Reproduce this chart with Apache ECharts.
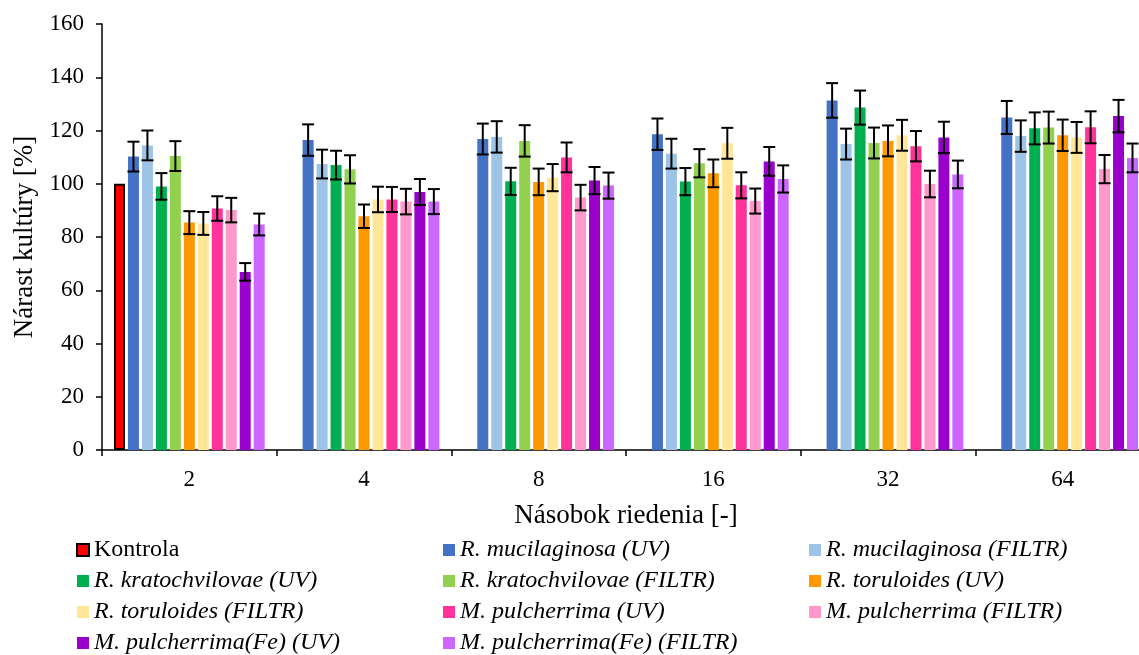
<!DOCTYPE html>
<html>
<head>
<meta charset="utf-8">
<script src="https://cdn.jsdelivr.net/npm/echarts@6/dist/echarts.min.js"></script>
<style>
  html, body { margin: 0; padding: 0; background: #fff; }
  #main { width: 1139px; height: 655px; }
</style>
</head>
<body>
<div id="main"></div>
<script>
// kategórie (násobok riedenia)
const categories = ['2', '4', '8', '16', '32', '64'];
const yTicks = [0, 20, 40, 60, 80, 100, 120, 140, 160];

// priemerné hodnoty [%]
const kontrola  = [100, null, null, null, null, null];
const rMucUV    = [110.2, 116.4, 116.8, 118.6, 131.3, 124.9];
const rMucFILTR = [114.4, 107.4, 117.6, 111.3, 114.9, 117.9];
const rKraUV    = [99.0, 107.0, 100.9, 100.8, 128.6, 120.8];
const rKraFILTR = [110.4, 105.4, 116.1, 107.7, 115.3, 121.1];
const rTorUV    = [85.4, 87.8, 100.7, 103.9, 116.1, 118.2];
const rTorFILTR = [85.1, 94.1, 102.3, 115.2, 118.2, 117.4];
const mPulUV    = [90.7, 94.1, 109.9, 99.4, 114.1, 121.2];
const mPulFILTR = [90.1, 93.3, 94.8, 93.5, 99.9, 105.5];
const mFeUV     = [66.9, 96.9, 101.2, 108.4, 117.4, 125.4];
const mFeFILTR  = [84.7, 93.3, 99.3, 101.8, 103.5, 109.7];

// smerodajné odchýlky (±)
const kontrolaErr  = [null, null, null, null, null, null];
const rMucUVErr    = [5.6, 5.9, 5.8, 5.9, 6.5, 6.2];
const rMucFILTRErr = [5.6, 5.4, 5.9, 5.6, 5.8, 5.9];
const rKraUVErr    = [5.0, 5.4, 5.1, 5.1, 6.4, 6.0];
const rKraFILTRErr = [5.6, 5.3, 5.9, 5.3, 5.8, 6.0];
const rTorUVErr    = [4.3, 4.4, 5.0, 5.2, 5.8, 5.9];
const rTorFILTRErr = [4.3, 4.8, 5.1, 5.8, 5.8, 5.8];
const mPulUVErr    = [4.6, 4.7, 5.6, 4.9, 5.7, 6.0];
const mPulFILTRErr = [4.6, 4.8, 4.8, 4.7, 5.0, 5.3];
const mFeUVErr     = [3.3, 4.9, 5.1, 5.4, 5.9, 6.1];
const mFeFILTRErr  = [4.1, 4.7, 4.9, 5.1, 5.2, 5.4];

const seriesDefs = [
  { name: 'Kontrola', values: kontrola, err: kontrolaErr, color: '#FF0000', italic: false },
  { name: 'R. mucilaginosa (UV)', values: rMucUV, err: rMucUVErr, color: '#4472C4', italic: true },
  { name: 'R. mucilaginosa (FILTR)', values: rMucFILTR, err: rMucFILTRErr, color: '#9DC3E6', italic: true },
  { name: 'R. kratochvilovae (UV)', values: rKraUV, err: rKraUVErr, color: '#00B050', italic: true },
  { name: 'R. kratochvilovae (FILTR)', values: rKraFILTR, err: rKraFILTRErr, color: '#92D050', italic: true },
  { name: 'R. toruloides (UV)', values: rTorUV, err: rTorUVErr, color: '#FF9900', italic: true },
  { name: 'R. toruloides (FILTR)', values: rTorFILTR, err: rTorFILTRErr, color: '#FFE699', italic: true },
  { name: 'M. pulcherrima (UV)', values: mPulUV, err: mPulUVErr, color: '#FF3399', italic: true },
  { name: 'M. pulcherrima (FILTR)', values: mPulFILTR, err: mPulFILTRErr, color: '#FF99CC', italic: true },
  { name: 'M. pulcherrima(Fe) (UV)', values: mFeUV, err: mFeUVErr, color: '#9900CC', italic: true },
  { name: 'M. pulcherrima(Fe) (FILTR)', values: mFeFILTR, err: mFeFILTRErr, color: '#CC66FF', italic: true }
];

const FONT = '"Liberation Serif", "Times New Roman", serif';
const barWidth = 11;
const barGap = 0.27;
const pitch = barWidth * (1 + barGap);
const nSeries = seriesDefs.length;

var myChart = echarts.init(document.getElementById('main'));

function errorRenderer(idx) {
  return function (params, api) {
    const e = api.value(2);
    if (e === null || isNaN(e)) return null;
    const c = api.value(0), v = api.value(1);
    const off = (idx - (nSeries - 1) / 2) * pitch;
    const top = api.coord([c, v + e]);
    const bot = api.coord([c, v - e]);
    const x = top[0] + off;
    const cap = 6;
    const st = { stroke: '#000', lineWidth: 2 };
    return {
      type: 'group',
      children: [
        { type: 'line', shape: { x1: x, y1: top[1], x2: x, y2: bot[1] }, style: st },
        { type: 'line', shape: { x1: x - cap, y1: top[1], x2: x + cap, y2: top[1] }, style: st },
        { type: 'line', shape: { x1: x - cap, y1: bot[1], x2: x + cap, y2: bot[1] }, style: st }
      ]
    };
  };
}

let series = [];
seriesDefs.forEach((d, i) => {
  series.push({
    name: d.name,
    type: 'bar',
    data: d.values,
    barWidth: barWidth,
    barGap: (barGap * 100) + '%',
    itemStyle: i === 0
      ? { color: d.color, borderColor: '#000', borderWidth: 2 }
      : { color: d.color },
    emphasis: { disabled: true }
  });
});
seriesDefs.forEach((d, i) => {
  series.push({
    name: 'err' + i,
    type: 'custom',
    renderItem: errorRenderer(i),
    data: d.values.map((v, k) => [k, v, d.err[k]]),
    z: 10,
    silent: true
  });
});

const option = {
  animation: false,
  textStyle: { fontFamily: FONT, color: '#000' },
  grid: { left: 102, top: 24, width: 1048, height: 426, containLabel: false, outerBoundsMode: 'none' },
  legend: {
    left: 71,
    top: 533,
    width: 1100,
    itemWidth: 12,
    itemHeight: 12,
    itemGap: 7,
    icon: 'rect',
    selectedMode: false,
    textStyle: { fontFamily: FONT, fontSize: 24, color: '#000', width: 342, lineHeight: 21 },
    data: seriesDefs.map(d => ({
      name: d.name,
      textStyle: { fontStyle: d.italic ? 'italic' : 'normal' }
    }))
  },
  xAxis: {
    type: 'category',
    data: categories,
    name: 'Násobok riedenia [-]',
    nameLocation: 'middle',
    nameGap: 52,
    nameTextStyle: { fontFamily: FONT, fontSize: 27, color: '#000' },
    axisLine: { lineStyle: { color: '#000', width: 1.5 } },
    axisTick: { show: true, length: 6, lineStyle: { color: '#000', width: 1.5 } },
    axisLabel: { fontFamily: FONT, fontSize: 23, color: '#000', margin: 18 }
  },
  yAxis: {
    type: 'value',
    min: 0,
    max: 160,
    interval: 20,
    name: 'Nárast kultúry [%]',
    nameLocation: 'middle',
    nameGap: 63,
    nameTextStyle: { fontFamily: FONT, fontSize: 27, color: '#000' },
    axisLine: { show: true, lineStyle: { color: '#000', width: 1.5 } },
    axisTick: { show: true, length: 6, lineStyle: { color: '#000', width: 1.5 } },
    axisLabel: {
      fontFamily: FONT, fontSize: 23, color: '#000', margin: 18,
      formatter: v => yTicks.indexOf(v) >= 0 ? String(v) : ''
    },
    splitLine: { show: false }
  },
  series: series
};
myChart.setOption(option);
</script>
</body>
</html>
